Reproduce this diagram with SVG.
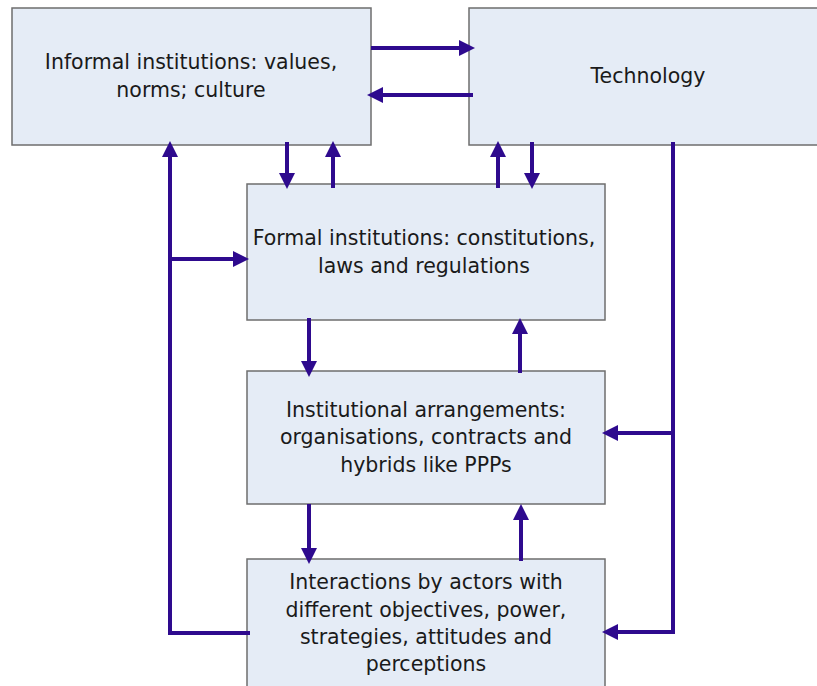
<svg xmlns="http://www.w3.org/2000/svg" width="817" height="686" viewBox="0 0 817 686">
  <style>
    .box { fill: #E5ECF6; stroke: #6E6E6E; stroke-width: 1.5; }
    .lbl { font-family: "DejaVu Sans", Verdana, sans-serif; font-size: 20.5px; fill: #1A1A1A; text-anchor: middle; }
    .link { fill: none; stroke: #2E0A8E; stroke-width: 4; stroke-linejoin: miter; }
  </style>
  <defs>
    <marker id="head" markerUnits="userSpaceOnUse" markerWidth="16" markerHeight="16" refX="0" refY="7" orient="auto" viewBox="0 0 14 14">
      <path d="M0,0 L14,7 L0,14 z" fill="#2E0A8E"/>
    </marker>
  </defs>
  <rect width="817" height="686" fill="#FFFFFF"/>

  <g id="informal">
    <rect class="box" x="12" y="8" width="359" height="137"/>
    <text class="lbl" x="191" y="69">Informal institutions: values,</text>
    <text class="lbl" x="191" y="97">norms; culture</text>
  </g>

  <g id="technology">
    <rect class="box" x="469" y="8" width="360" height="137"/>
    <text class="lbl" x="648" y="83">Technology</text>
  </g>

  <g id="formal">
    <rect class="box" x="247" y="184" width="358" height="136"/>
    <text class="lbl" x="424" y="245">Formal institutions: constitutions,</text>
    <text class="lbl" x="424" y="273">laws and regulations</text>
  </g>

  <g id="arrangements">
    <rect class="box" x="247" y="371" width="358" height="133"/>
    <text class="lbl" x="426" y="417">Institutional arrangements:</text>
    <text class="lbl" x="426" y="444">organisations, contracts and</text>
    <text class="lbl" x="426" y="472">hybrids like PPPs</text>
  </g>

  <g id="interactions">
    <rect class="box" x="247" y="559" width="358" height="140"/>
    <text class="lbl" x="426" y="589">Interactions by actors with</text>
    <text class="lbl" x="426" y="617">different objectives, power,</text>
    <text class="lbl" x="426" y="644">strategies, attitudes and</text>
    <text class="lbl" x="426" y="671">perceptions</text>
  </g>

  <g id="connectors">
    <!-- informal <-> technology -->
    <path class="link" d="M371,48 H459" marker-end="url(#head)"/>
    <path class="link" d="M473,95 H383" marker-end="url(#head)"/>
    <!-- informal <-> formal -->
    <path class="link" d="M287,142 V173" marker-end="url(#head)"/>
    <path class="link" d="M333,188 V157" marker-end="url(#head)"/>
    <!-- technology <-> formal -->
    <path class="link" d="M498,188 V157" marker-end="url(#head)"/>
    <path class="link" d="M532,142 V173" marker-end="url(#head)"/>
    <!-- technology down the right side -->
    <path class="link" d="M673,142 V632 H618" marker-end="url(#head)"/>
    <path class="link" d="M673,433 H618" marker-end="url(#head)"/>
    <!-- interactions back up the left side -->
    <path class="link" d="M250,633 H170 V157" marker-end="url(#head)"/>
    <path class="link" d="M170,259 H233" marker-end="url(#head)"/>
    <!-- formal <-> arrangements -->
    <path class="link" d="M309,318 V361" marker-end="url(#head)"/>
    <path class="link" d="M520,373 V334" marker-end="url(#head)"/>
    <!-- arrangements <-> interactions -->
    <path class="link" d="M309,504 V548" marker-end="url(#head)"/>
    <path class="link" d="M521,561 V520" marker-end="url(#head)"/>
  </g>
</svg>
